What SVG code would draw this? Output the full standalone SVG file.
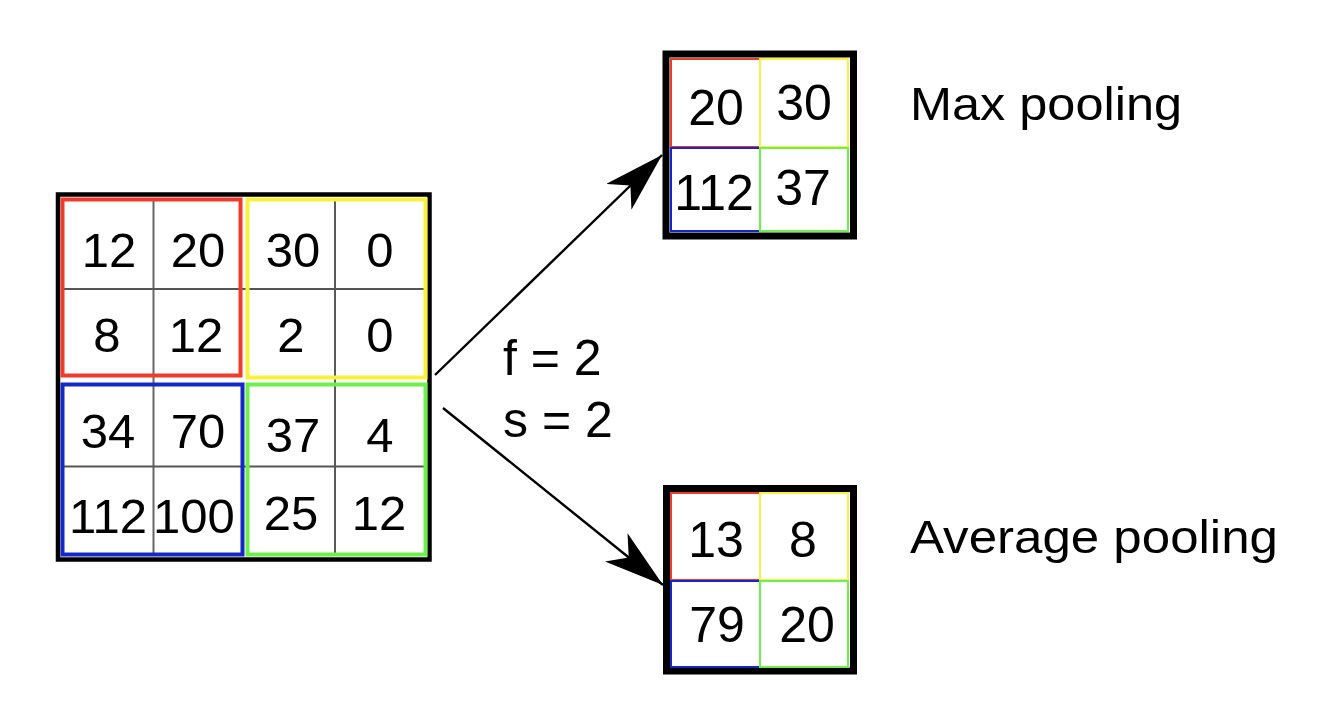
<svg xmlns="http://www.w3.org/2000/svg" width="1336" height="720" viewBox="0 0 1336 720">
  <style>
    .num { font-family: "Liberation Sans", Arial, sans-serif; font-size: 49px; fill: #000; text-anchor: middle; }
    .snum { font-family: "Liberation Sans", Arial, sans-serif; font-size: 50px; fill: #000; text-anchor: middle; }
    .lbl { font-family: "Liberation Sans", Arial, sans-serif; font-size: 47px; fill: #000; }
    .param { font-family: "Liberation Sans", Arial, sans-serif; font-size: 50px; fill: #000; }
    .outer { fill: #fff; stroke: #000; }
    .red { fill: none; stroke: #ee3b2c; }
    .yel { fill: none; stroke: #f7f23c; }
    .blu { fill: none; stroke: #1428c8; }
    .grn { fill: none; stroke: #6ef04a; }
    .conn { fill: none; stroke: #000; stroke-width: 2.4; }
  </style>
  <defs>
    <marker id="head" viewBox="0 0 60 36" markerWidth="60" markerHeight="36" markerUnits="userSpaceOnUse" refX="60" refY="18" orient="auto">
      <path d="M60,18 L0,0 L16,18 L0,36 Z" fill="#000"/>
    </marker>
  </defs>
  <rect width="1336" height="720" fill="#fff"/>

  <g id="input-grid">
    <rect class="outer" x="58" y="194.5" width="371.5" height="365" stroke-width="4.5"/>
    <line x1="153.5" y1="201" x2="153.5" y2="553" stroke="#666" stroke-width="2"/>
    <line x1="335" y1="201" x2="335" y2="553" stroke="#222" stroke-width="1.5"/>
    <line x1="64" y1="289" x2="424" y2="289" stroke="#555" stroke-width="2"/>
    <line x1="64" y1="466.5" x2="424" y2="466.5" stroke="#555" stroke-width="2"/>
    <rect class="red" x="62.5" y="199.5" width="178" height="176" stroke-width="4"/>
    <rect class="yel" x="247.5" y="199.5" width="178" height="178" stroke-width="4"/>
    <rect class="blu" x="62.5" y="384.5" width="180" height="170" stroke-width="4"/>
    <rect class="grn" x="247.5" y="384.5" width="178" height="170" stroke-width="4"/>
    <text class="num" x="109" y="267">12</text>
    <text class="num" x="198" y="267">20</text>
    <text class="num" x="293" y="267">30</text>
    <text class="num" x="380" y="267">0</text>
    <text class="num" x="107" y="352">8</text>
    <text class="num" x="196" y="352">12</text>
    <text class="num" x="291" y="352">2</text>
    <text class="num" x="380" y="352">0</text>
    <text class="num" x="108" y="448">34</text>
    <text class="num" x="198" y="448">70</text>
    <text class="num" x="293" y="452">37</text>
    <text class="num" x="380" y="452">4</text>
    <text class="num" x="108" y="533">112</text>
    <text class="num" x="194" y="533">100</text>
    <text class="num" x="291" y="530">25</text>
    <text class="num" x="379" y="530">12</text>
  </g>

  <g id="max-pool">
    <rect class="outer" x="666" y="54" width="187.5" height="182" stroke-width="7"/>
    <rect class="red" x="671" y="59" width="89" height="88" stroke-width="2"/>
    <rect class="yel" x="760" y="59" width="88" height="88" stroke-width="2"/>
    <rect class="blu" x="671" y="148" width="89" height="83" stroke-width="2"/>
    <rect class="grn" x="760" y="148" width="88" height="83" stroke-width="2"/>
    <text class="snum" x="716" y="125">20</text>
    <text class="snum" x="804" y="120">30</text>
    <text class="snum" x="714" y="210">112</text>
    <text class="snum" x="803" y="205">37</text>
  </g>

  <g id="avg-pool">
    <rect class="outer" x="666.5" y="488.5" width="187" height="182.5" stroke-width="7"/>
    <rect class="red" x="671" y="493" width="89" height="87" stroke-width="2"/>
    <rect class="yel" x="760" y="493" width="88" height="87" stroke-width="2"/>
    <rect class="blu" x="671" y="581" width="89" height="86" stroke-width="2"/>
    <rect class="grn" x="760" y="581" width="88" height="86" stroke-width="2"/>
    <text class="snum" x="716" y="557">13</text>
    <text class="snum" x="803" y="557">8</text>
    <text class="snum" x="717" y="642">79</text>
    <text class="snum" x="807" y="642">20</text>
  </g>

  <g id="connectors">
    <line class="conn" x1="435" y1="375" x2="662" y2="155" marker-end="url(#head)"/>
    <line class="conn" x1="443" y1="408" x2="663" y2="585" marker-end="url(#head)"/>
  </g>

  <g id="params">
    <text class="param" x="503" y="375">f = 2</text>
    <text class="param" x="503" y="437">s = 2</text>
  </g>

  <g id="label-max">
    <text class="lbl" x="910" y="120" textLength="272" lengthAdjust="spacingAndGlyphs">Max pooling</text>
  </g>
  <g id="label-avg">
    <text class="lbl" x="910" y="553" textLength="368" lengthAdjust="spacingAndGlyphs">Average pooling</text>
  </g>
</svg>
